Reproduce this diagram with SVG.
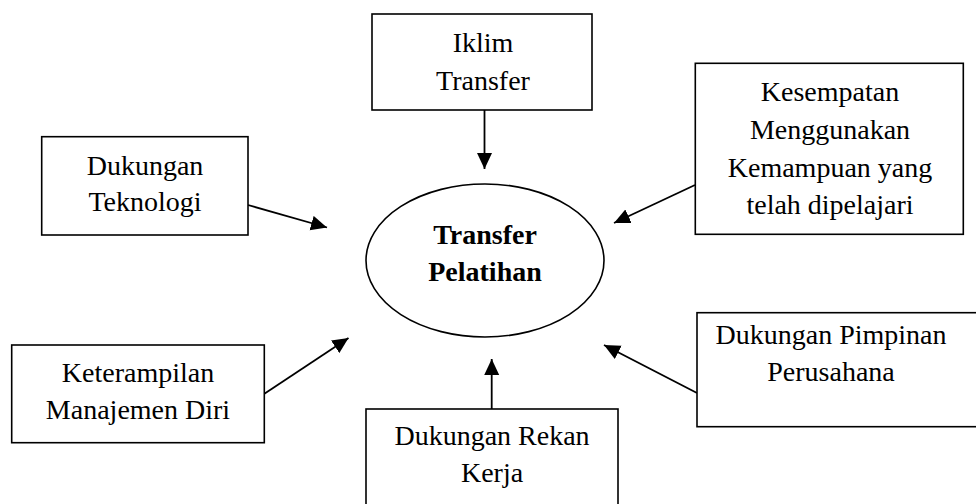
<svg xmlns="http://www.w3.org/2000/svg" width="976" height="504" viewBox="0 0 976 504">
<style>
.box{fill:#fff;stroke:#000;stroke-width:1.6}
.t{font-family:"Liberation Serif","Times New Roman",serif;font-size:28px;fill:#000;text-anchor:middle}
.b{font-weight:bold}
.c{stroke:#000;stroke-width:1.8;fill:none}
</style>
<defs>
<marker id="ah" markerUnits="userSpaceOnUse" markerWidth="17" markerHeight="16" refX="16" refY="7.5" orient="auto" viewBox="0 0 17 16">
<path d="M0,0 L16,7.5 L0,15 z" fill="#000"/>
</marker>
</defs>
<rect width="976" height="504" fill="#fff"/>
<g id="connectors">
<line class="c" x1="484.5" y1="110" x2="484.5" y2="169" marker-end="url(#ah)"/>
<line class="c" x1="248" y1="205" x2="327" y2="227.5" marker-end="url(#ah)"/>
<line class="c" x1="695" y1="185" x2="614" y2="223" marker-end="url(#ah)"/>
<line class="c" x1="264" y1="394" x2="348.5" y2="338" marker-end="url(#ah)"/>
<line class="c" x1="491.7" y1="409" x2="491.7" y2="359" marker-end="url(#ah)"/>
<line class="c" x1="697" y1="393" x2="604" y2="345" marker-end="url(#ah)"/>
</g>
<g id="center">
<ellipse cx="485" cy="260.5" rx="119" ry="76.5" fill="#fff" stroke="#000" stroke-width="1.6"/>
<text class="t b" x="485" y="243.5">Transfer</text>
<text class="t b" x="485" y="281">Pelatihan</text>
</g>
<g id="iklim">
<rect class="box" x="372" y="14" width="220" height="96"/>
<text class="t" x="483" y="52">Iklim</text>
<text class="t" x="483" y="90">Transfer</text>
</g>
<g id="teknologi">
<rect class="box" x="41.7" y="136.7" width="206.3" height="98.3"/>
<text class="t" x="145" y="175">Dukungan</text>
<text class="t" x="145" y="211">Teknologi</text>
</g>
<g id="kesempatan">
<rect class="box" x="695.3" y="63.3" width="268" height="171"/>
<text class="t" x="830" y="101">Kesempatan</text>
<text class="t" x="830" y="139">Menggunakan</text>
<text class="t" x="830" y="177">Kemampuan yang</text>
<text class="t" x="830" y="214">telah dipelajari</text>
</g>
<g id="keterampilan">
<rect class="box" x="11.7" y="345" width="252.6" height="97.7"/>
<text class="t" x="138" y="382">Keterampilan</text>
<text class="t" x="138" y="419">Manajemen Diri</text>
</g>
<g id="rekan">
<rect class="box" x="366" y="409" width="252" height="110"/>
<text class="t" x="492" y="445">Dukungan Rekan</text>
<text class="t" x="492" y="482">Kerja</text>
</g>
<g id="pimpinan">
<rect class="box" x="697" y="312.7" width="290" height="114"/>
<text class="t" x="831" y="344">Dukungan Pimpinan</text>
<text class="t" x="831" y="381">Perusahana</text>
</g>
</svg>
